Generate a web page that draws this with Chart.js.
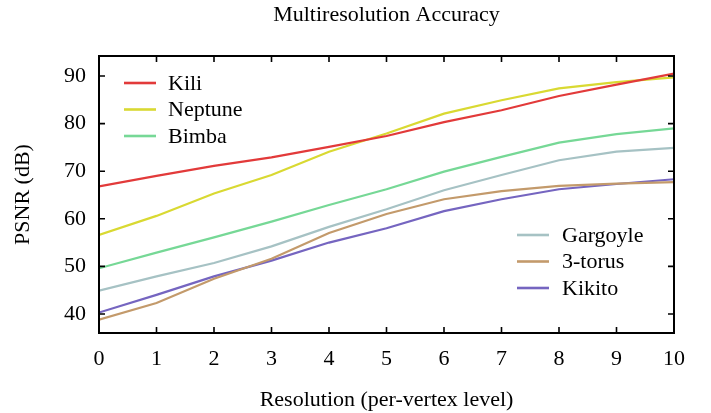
<!DOCTYPE html>
<html>
<head>
<meta charset="utf-8">
<script src="https://cdn.jsdelivr.net/npm/chart.js@4"></script>
<style>
  html, body { margin: 0; padding: 0; background: #fff; }
  #wrap { width: 711px; height: 413px; }
</style>
</head>
<body>
<div id="wrap"><canvas id="psnrChart" width="711" height="413"></canvas></div>
<script>
// resolution levels 0..10
let levels = [0, 1, 2, 3, 4, 5, 6, 7, 8, 9, 10];

let kili     = [66.8, 69.0, 71.1, 72.9, 75.1, 77.4, 80.3, 82.8, 85.8, 88.2, 90.5];
let neptune  = [56.6, 60.6, 65.3, 69.2, 74.1, 77.9, 82.1, 84.9, 87.4, 88.7, 89.7];
let bimba    = [49.6, 52.9, 56.1, 59.4, 62.9, 66.2, 69.9, 73.0, 76.0, 77.8, 79.0];
let gargoyle = [44.9, 47.9, 50.7, 54.2, 58.3, 62.0, 66.0, 69.2, 72.3, 74.1, 74.9];
let torus    = [38.8, 42.3, 47.4, 51.6, 57.0, 61.0, 64.1, 65.8, 66.9, 67.4, 67.7];
let kikito   = [40.3, 44.0, 47.9, 51.2, 55.0, 58.0, 61.6, 64.1, 66.2, 67.3, 68.3];

let yTicks = [40, 50, 60, 70, 80, 90];

const serif = "'Liberation Serif', 'DejaVu Serif', serif";

function series(label, values, color) {
    return {
        label: label,
        data: levels.map((x, i) => ({ x: x, y: values[i] })),
        borderColor: color,
        backgroundColor: color,
        borderWidth: 2.2,
        pointRadius: 0,
        tension: 0,
        fill: false
    };
}

// two little legends inside the plot, like the original
const insideLegend = {
    id: 'insideLegend',
    afterDatasetsDraw(chart) {
        const ctx = chart.ctx;
        const groups = [
            { idx: [0, 1, 2], x0: 124, x1: 156, tx: 168, y0: 83, dy: 26.5 },
            { idx: [3, 4, 5], x0: 517, x1: 549, tx: 562, y0: 235, dy: 26.5 }
        ];
        ctx.save();
        ctx.font = '22px ' + serif;
        ctx.textBaseline = 'middle';
        ctx.fillStyle = '#000';
        groups.forEach(g => {
            g.idx.forEach((d, k) => {
                const ds = chart.data.datasets[d];
                const y = g.y0 + k * g.dy;
                ctx.strokeStyle = ds.borderColor;
                ctx.lineWidth = 2.6;
                ctx.beginPath();
                ctx.moveTo(g.x0, y);
                ctx.lineTo(g.x1, y);
                ctx.stroke();
                ctx.fillText(ds.label, g.tx, y + 1);
            });
        });
        ctx.restore();
    }
};

// box around the plot with inward ticks on all four sides
const frameTicks = {
    id: 'frameTicks',
    afterDatasetsDraw(chart) {
        const ctx = chart.ctx;
        const a = chart.chartArea;
        const xs = chart.scales.x;
        const ys = chart.scales.y;
        const len = 6;
        ctx.save();
        ctx.strokeStyle = '#000';
        ctx.lineWidth = 1.6;
        ctx.beginPath();
        xs.ticks.forEach(t => {
            const px = xs.getPixelForValue(t.value);
            ctx.moveTo(px, a.bottom); ctx.lineTo(px, a.bottom - len);
            ctx.moveTo(px, a.top); ctx.lineTo(px, a.top + len);
        });
        ys.ticks.forEach(t => {
            const py = ys.getPixelForValue(t.value);
            ctx.moveTo(a.left, py); ctx.lineTo(a.left + len, py);
            ctx.moveTo(a.right, py); ctx.lineTo(a.right - len, py);
        });
        ctx.stroke();
        ctx.lineWidth = 2;
        ctx.strokeRect(a.left, a.top, a.right - a.left, a.bottom - a.top);
        ctx.restore();
    }
};

let chartEl = document.getElementById('psnrChart').getContext('2d');
let psnrChart = new Chart(chartEl, {
    type: 'line',
    data: {
        datasets: [
            series('Kili', kili, '#e23a3a'),
            series('Neptune', neptune, '#d9d932'),
            series('Bimba', bimba, '#76d896'),
            series('Gargoyle', gargoyle, '#a6c2c4'),
            series('3-torus', torus, '#c39a6b'),
            series('Kikito', kikito, '#7565c0')
        ]
    },
    options: {
        responsive: false,
        animation: false,
        layout: { padding: { left: 0, right: 37, top: 0, bottom: 0 } },
        plugins: {
            legend: { display: false },
            tooltip: { enabled: false },
            title: {
                display: true,
                text: 'Multiresolution Accuracy',
                color: '#000',
                fullSize: false,
                font: { family: serif, size: 22, weight: 'normal' },
                padding: { top: 2, bottom: 27.6 }
            }
        },
        scales: {
            x: {
                type: 'linear',
                min: 0,
                max: 10,
                afterFit(scale) { scale.height = 80; },
                ticks: {
                    stepSize: 1,
                    color: '#000',
                    padding: 13,
                    font: { family: serif, size: 22 }
                },
                grid: { display: false, drawTicks: false },
                border: { display: false },
                title: {
                    display: true,
                    text: 'Resolution (per-vertex level)',
                    color: '#000',
                    font: { family: serif, size: 22 },
                    padding: { top: 0, bottom: 0 }
                }
            },
            y: {
                min: 36,
                max: 94.2,
                afterFit(scale) { scale.width = 99; },
                afterBuildTicks(scale) {
                    scale.ticks = yTicks.map(v => ({ value: v }));
                },
                ticks: {
                    color: '#000',
                    padding: 13,
                    font: { family: serif, size: 22 }
                },
                grid: { display: false, drawTicks: false },
                border: { display: false },
                title: {
                    display: true,
                    text: 'PSNR (dB)',
                    color: '#000',
                    font: { family: serif, size: 22 },
                    padding: { top: 10, bottom: 0 }
                }
            }
        }
    },
    plugins: [insideLegend, frameTicks]
});
</script>
</body>
</html>
